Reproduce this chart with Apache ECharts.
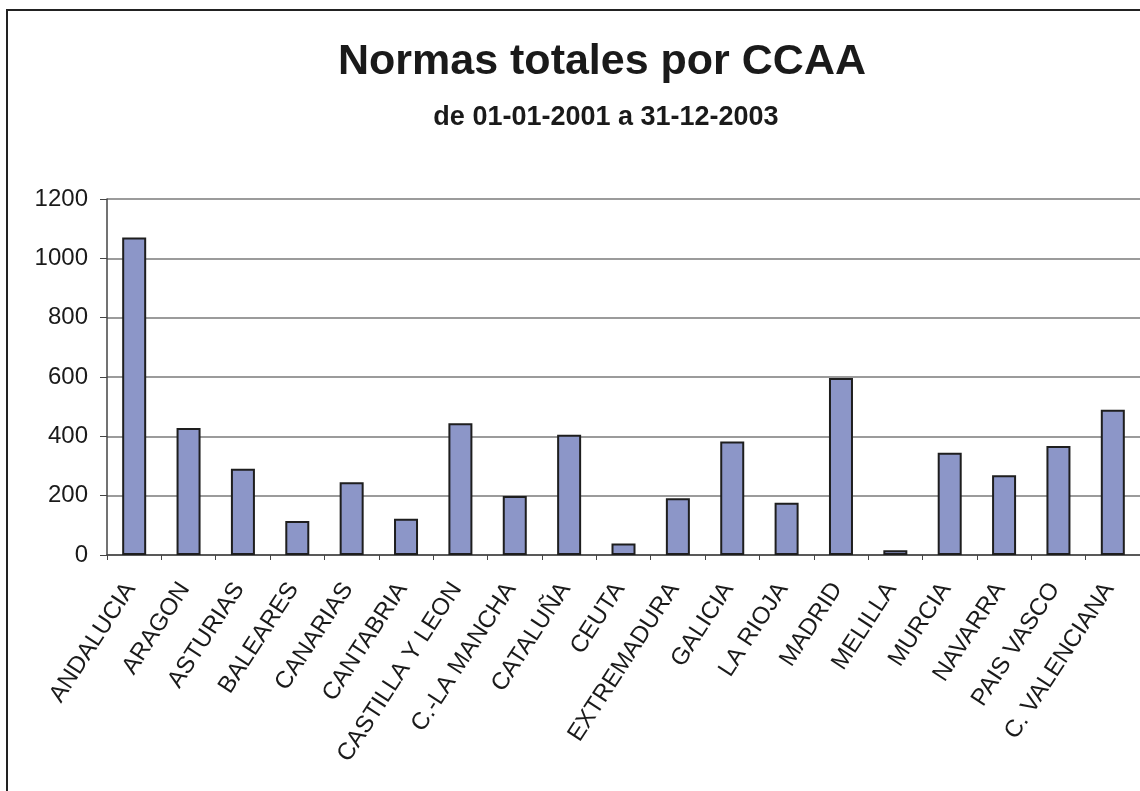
<!DOCTYPE html>
<html>
<head>
<meta charset="utf-8">
<script src="https://cdn.jsdelivr.net/npm/echarts@6/dist/echarts.min.js"></script>
<style>
html,body{margin:0;padding:0;background:#fff;}
#chart{width:1140px;height:791px;}
</style>
</head>
<body>
<div id="chart"></div>
<script>
const categories = ["ANDALUCIA","ARAGON","ASTURIAS","BALEARES","CANARIAS","CANTABRIA","CASTILLA Y LEON","C.-LA MANCHA","CATALUÑA","CEUTA","EXTREMADURA","GALICIA","LA RIOJA","MADRID","MELILLA","MURCIA","NAVARRA","PAIS VASCO","C. VALENCIANA"];
const normas = [1070,428,291,115,245,122,444,199,405,39,191,383,176,597,16,345,269,367,490];
const yTicks = [0,200,400,600,800,1000,1200];

const FONT = '"Liberation Sans", Arial, sans-serif';
const chart = echarts.init(document.getElementById('chart'), null, {renderer:'canvas'});
chart.setOption({
  animation:false,
  backgroundColor:'#ffffff',
  title:[
    {text:'Normas totales por CCAA', left:597, top:36, textAlign:'center',
     textStyle:{fontFamily:FONT, fontWeight:'bold', fontSize:43, color:'#1a1a1a'}},
    {text:'de 01-01-2001 a 31-12-2003', left:601, top:99, textAlign:'center',
     textStyle:{fontFamily:FONT, fontWeight:'bold', fontSize:27, color:'#1a1a1a'}}
  ],
  graphic:[
    {type:'rect', shape:{x:7,y:10,width:1300,height:900},
     style:{fill:'none', stroke:'#222', lineWidth:2}, z:-1, silent:true}
  ],
  grid:{left:107, top:199, width:1046, height:356, containLabel:false},
  xAxis:{
    type:'category', data:categories,
    axisLine:{show:true, lineStyle:{color:'#444', width:1.5}},
    axisTick:{show:true, alignWithLabel:false, length:5, lineStyle:{color:'#444', width:1}},
    axisLabel:{interval:0, rotate:57, margin:24, padding:[0,7,0,0], fontFamily:FONT, fontSize:24, color:'#1a1a1a'},
    splitLine:{show:false}
  },
  yAxis:{
    type:'value', min:0, max:1200, interval:200,
    axisLine:{show:true, lineStyle:{color:'#444', width:1.5}},
    axisTick:{show:true, length:7, lineStyle:{color:'#444', width:1}},
    axisLabel:{margin:19, fontFamily:FONT, fontSize:24, color:'#1a1a1a',
      formatter:function(v){return yTicks.indexOf(v)>=0 ? String(v) : '';}},
    splitLine:{show:true, lineStyle:{color:'#7a7a7a', width:1.5}}
  },
  series:[{
    type:'bar', data:normas, barWidth:24,
    itemStyle:{color:'#8c96c8', borderColor:'#1e1e1e', borderWidth:2}
  }]
});
</script>
</body>
</html>
